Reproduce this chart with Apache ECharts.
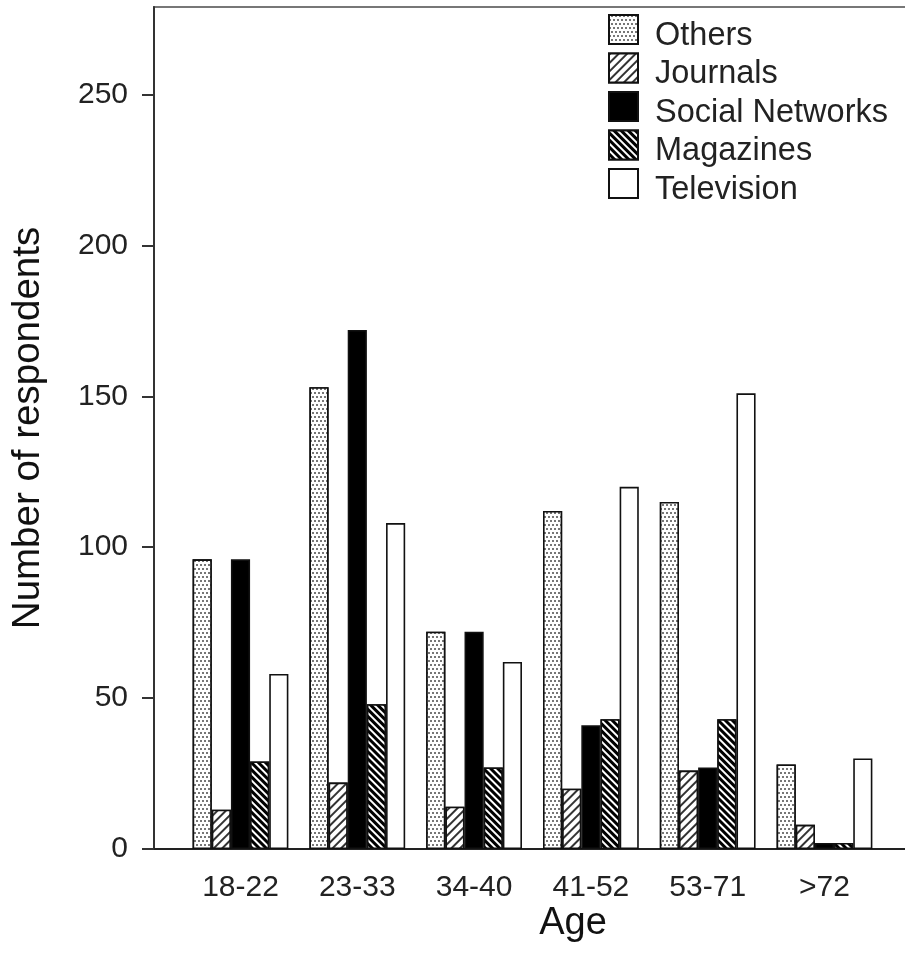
<!DOCTYPE html>
<html>
<head>
<meta charset="utf-8">
<script src="https://cdn.jsdelivr.net/npm/echarts@6/dist/echarts.min.js"></script>
<style>html,body{margin:0;padding:0;background:#fff;}#chart{width:905px;height:955px;}</style>
</head>
<body>
<div id="chart"></div>
<script>
const categories = ['18-22', '23-33', '34-40', '41-52', '53-71', '>72'];
const others = [96, 153, 72, 112, 115, 28];
const journals = [13, 22, 14, 20, 26, 8];
const socialNetworks = [96, 172, 72, 41, 27, 2];
const magazines = [29, 48, 27, 43, 43, 2];
const television = [58, 108, 62, 120, 151, 30];
const yTicks = [0, 50, 100, 150, 200, 250];
const yMax = 279;

const FONT = 'Liberation Sans, Arial, sans-serif';
const chart = echarts.init(document.getElementById('chart'), null, { renderer: 'canvas' });

const border = { borderColor: '#111', borderWidth: 1.6 };
function bar(name, data, style) {
  return {
    name, type: 'bar', data, xAxisIndex: 1, yAxisIndex: 1,
    barGap: '0%', barCategoryGap: '18%',
    itemStyle: Object.assign({}, border, style)
  };
}

chart.setOption({
  animation: false,
  backgroundColor: '#fff',
  textStyle: { fontFamily: FONT, color: '#222' },
  grid: [
    { left: 154, top: 7, width: 838, bottom: 106, outerBoundsMode: 'none', containLabel: false,
      show: true, borderColor: '#777', borderWidth: 2, backgroundColor: 'transparent' },
    { left: 182.1, top: 7, width: 700.8, bottom: 106, outerBoundsMode: 'none', containLabel: false }
  ],
  xAxis: [
    { type: 'value', gridIndex: 0, min: 0, max: 1, axisLabel: { show: false }, axisTick: { show: false }, splitLine: { show: false },
      axisLine: { lineStyle: { color: '#222', width: 2 } },
      name: 'Age', nameLocation: 'middle', nameGap: 56,
      nameTextStyle: { fontSize: 38, color: '#111', fontFamily: FONT } },
    { type: 'category', gridIndex: 1, data: categories, boundaryGap: true,
      axisLine: { show: false },
      axisTick: { alignWithLabel: true, length: 11, lineStyle: { color: '#222', width: 2 } },
      axisLabel: { fontSize: 30, color: '#222', margin: 24, fontFamily: FONT } }
  ],
  yAxis: [
    { type: 'value', gridIndex: 0, min: 0, max: yMax, splitLine: { show: false },
      axisLine: { show: true, lineStyle: { color: '#333', width: 2 } },
      axisTick: { show: true, length: 12, customValues: yTicks, lineStyle: { color: '#333', width: 2 } },
      axisLabel: { fontSize: 30, color: '#222', margin: 26, customValues: yTicks, fontFamily: FONT },
      name: 'Number of respondents', nameLocation: 'middle', nameGap: 106, nameRotate: 90,
      nameTextStyle: { fontSize: 38.5, color: '#111', fontFamily: FONT } },
    { type: 'value', gridIndex: 1, min: 0, max: yMax, show: false }
  ],
  legend: {
    orient: 'vertical', left: 608, top: 14, padding: 0, itemWidth: 29, itemHeight: 29, itemGap: 0,
    icon: 'rect',
    formatter: '{t|{name}}',
    textStyle: { fontSize: 32.5, color: '#222', fontFamily: FONT,
      rich: { t: { fontSize: 32.5, color: '#222', fontFamily: FONT, padding: [13, 0, 0, 12] } } },
    data: ['Others', 'Journals', 'Social Networks', 'Magazines', 'Television']
  },
  series: [
    bar('Others', others, { color: '#fff', decal: { symbol: 'rect', dashArrayX: [[1.5, 1.5], [0, 1.5, 1.5, 0]], dashArrayY: [2, 1.5], color: '#777', backgroundColor: '#fff', rotation: 0, symbolSize: 1 } }),
    bar('Journals', journals, { color: '#fff', decal: { symbol: 'rect', dashArrayX: [1, 0], dashArrayY: [2, 4], color: '#333', backgroundColor: '#fff', rotation: -Math.PI / 4, symbolSize: 1 } }),
    bar('Social Networks', socialNetworks, { color: '#000' }),
    bar('Magazines', magazines, { color: '#000', decal: { symbol: 'rect', dashArrayX: [1, 0], dashArrayY: [3, 2], color: '#000', backgroundColor: '#fff', rotation: Math.PI / 4, symbolSize: 1 } }),
    bar('Television', television, { color: '#fff' })
  ]
});
</script>
</body>
</html>
